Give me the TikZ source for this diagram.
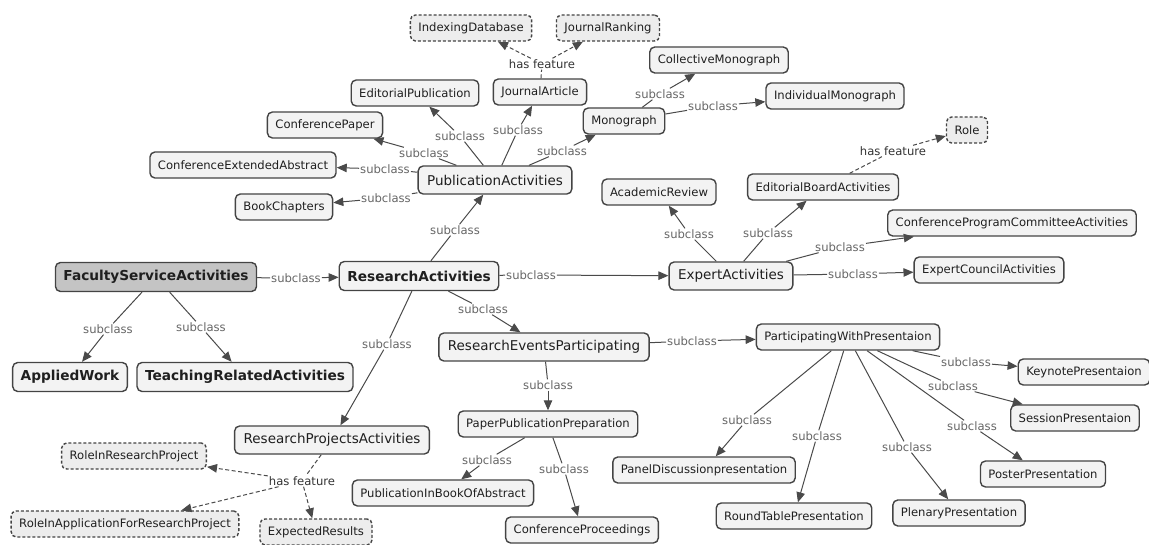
\documentclass[tikz,border=0pt]{standalone}
\usepackage{fontspec}
\setmainfont{DejaVu Sans}
\usetikzlibrary{arrows.meta}
\definecolor{nodeborder}{HTML}{444444}
\definecolor{nodefill}{HTML}{F3F3F3}
\definecolor{edgecol}{HTML}{4A4A4A}
\definecolor{labcol}{HTML}{666666}
\definecolor{facfill}{HTML}{C4C4C4}
\begin{document}
\begin{tikzpicture}[x=1pt,y=-1pt,
 cbox/.style={draw=nodeborder, line width=1.4pt, fill=nodefill, rounded corners=5pt, inner xsep=8pt, inner ysep=2pt, minimum height=26pt, font=\fontsize{11.6}{13}\selectfont, text=black!88},
 bigc/.style={cbox, inner xsep=9pt, minimum height=28pt, font=\fontsize{13.5}{15}\selectfont},
 boldc/.style={cbox, inner xsep=8pt, minimum height=29pt, font=\fontsize{13.7}{15}\selectfont\bfseries},
 feat/.style={cbox, dash pattern=on 3pt off 2pt, fill=black!7},
 lab/.style={fill=white, inner sep=1pt, text=labcol, font=\fontsize{11.6}{13}\selectfont},
 hlab/.style={lab, text=black!80},
 conn/.style={draw=edgecol, line width=1pt},
 arr/.style={conn, -{Triangle[length=10pt,width=8.5pt]}},
 darr/.style={arr, dash pattern=on 4pt off 2.5pt},
 dline/.style={conn, dash pattern=on 4pt off 2.5pt},
]
\useasboundingbox (0,0) rectangle (1149,545);
% nodes
\node[feat] (ID) at (471,28) {IndexingDatabase};
\node[feat] (JR) at (608,28) {JournalRanking};
\node[cbox] (JA) at (540,92) {JournalArticle};
\node[cbox] (EP) at (415,93) {EditorialPublication};
\node[cbox] (CPp) at (325,125) {ConferencePaper};
\node[cbox] (CEA) at (243,165) {ConferenceExtendedAbstract};
\node[cbox] (BC) at (284,207) {BookChapters};
\node[bigc] (PA) at (495,180) {PublicationActivities};
\node[cbox] (MO) at (624,121) {Monograph};
\node[cbox] (CM) at (719,60) {CollectiveMonograph};
\node[cbox] (IM) at (835,96) {IndividualMonograph};
\node[feat] (RO) at (967,130) {Role};
\node[cbox] (EBA) at (823,187) {EditorialBoardActivities};
\node[cbox] (AR) at (659,192) {AcademicReview};
\node[cbox] (CPCA) at (1012,223) {ConferenceProgramCommitteeActivities};
\node[bigc] (EA) at (731,276) {ExpertActivities};
\node[cbox] (ECA) at (989,270) {ExpertCouncilActivities};
\node[boldc, fill=facfill] (FSA) at (156,277) {FacultyServiceActivities};
\node[boldc] (RA) at (419,276) {ResearchActivities};
\node[boldc] (AW) at (70,377) {AppliedWork};
\node[boldc] (TRA) at (245,377) {TeachingRelatedActivities};
\node[bigc] (REP) at (544,347) {ResearchEventsParticipating};
\node[cbox] (PWP) at (848,337) {ParticipatingWithPresentaion};
\node[cbox] (PPP) at (548,424) {PaperPublicationPreparation};
\node[cbox] (PIB) at (443,493) {PublicationInBookOfAbstract};
\node[cbox] (CPr) at (582,530) {ConferenceProceedings};
\node[bigc] (RPA) at (332,440) {ResearchProjectsActivities};
\node[feat] (RIRP) at (134,456) {RoleInResearchProject};
\node[feat] (RIAF) at (125,524) {RoleInApplicationForResearchProject};
\node[feat] (ER) at (316,532) {ExpectedResults};
\node[cbox] (PDP) at (704,470) {PanelDiscussionpresentation};
\node[cbox] (RTP) at (794,516) {RoundTablePresentation};
\node[cbox] (PLP) at (959,513) {PlenaryPresentation};
\node[cbox] (PSP) at (1043,474) {PosterPresentation};
\node[cbox] (SP) at (1075,418) {SessionPresentaion};
\node[cbox] (KP) at (1084,372) {KeynotePresentaion};
% labels
\node[lab] (l1) at (460,136) {subclass};
\node[lab] (l2) at (424,153) {subclass};
\node[lab] (l3) at (385,169) {subclass};
\node[lab] (l4) at (386,198) {subclass};
\node[lab] (l5) at (518,130) {subclass};
\node[lab] (l6) at (562,151) {subclass};
\node[lab] (l7) at (660,94) {subclass};
\node[lab] (l8) at (713,106) {subclass};
\node[hlab] (h1) at (542,64) {has feature};
\node[lab] (l10) at (455,230) {subclass};
\node[lab] (l11) at (296,278) {subclass};
\node[lab] (l12) at (108,329) {subclass};
\node[lab] (l13) at (201,327) {subclass};
\node[lab] (l14) at (531,275) {subclass};
\node[lab] (l15) at (483,309) {subclass};
\node[lab] (l16) at (387,344) {subclass};
\node[lab] (l17) at (689,234) {subclass};
\node[lab] (l18) at (768,233) {subclass};
\node[lab] (l19) at (840,247) {subclass};
\node[lab] (l20) at (853,274) {subclass};
\node[hlab] (h2) at (893,151) {has feature};
\node[lab] (l22) at (692,341) {subclass};
\node[lab] (l23) at (548,385) {subclass};
\node[lab] (l24) at (487,460) {subclass};
\node[lab] (l25) at (564,469) {subclass};
\node[hlab] (h3) at (302,481) {has feature};
\node[lab] (l27) at (747,420) {subclass};
\node[lab] (l28) at (817,436) {subclass};
\node[lab] (l29) at (907,447) {subclass};
\node[lab] (l30) at (972,426) {subclass};
\node[lab] (l31) at (953,386) {subclass};
\node[lab] (l32) at (966,362) {subclass};
% connectors
\draw[conn] (PA) -- (l1); \draw[arr] (l1) -- (EP);
\draw[conn] (PA) -- (l2); \draw[arr] (l2) -- (CPp);
\draw[conn] (PA) -- (l3); \draw[arr] (l3) -- (CEA);
\draw[conn] (PA) -- (l4); \draw[arr] (l4) -- (BC);
\draw[conn] (PA) -- (l5); \draw[arr] (l5) -- (JA);
\draw[conn] (PA) -- (l6); \draw[arr] (l6) -- (MO);
\draw[conn] (MO) -- (l7); \draw[arr] (l7) -- (CM);
\draw[conn] (MO) -- (l8); \draw[arr] (l8) -- (IM);
\draw[dline] (JA) -- (h1); \draw[darr] (h1) -- (ID); \draw[darr] (h1) -- (JR);
\draw[conn] (RA) -- (l10); \draw[arr] (l10) -- (PA);
\draw[conn] (FSA) -- (l11); \draw[arr] (l11) -- (RA);
\draw[conn] (FSA) -- (l12); \draw[arr] (l12) -- (AW);
\draw[conn] (FSA) -- (l13); \draw[arr] (l13) -- (TRA);
\draw[conn] (RA) -- (l14); \draw[arr] (l14) -- (EA);
\draw[conn] (RA) -- (l15); \draw[arr] (l15) -- (REP);
\draw[conn] (RA) -- (l16); \draw[arr] (l16) -- (RPA);
\draw[conn] (EA) -- (l17); \draw[arr] (l17) -- (AR);
\draw[conn] (EA) -- (l18); \draw[arr] (l18) -- (EBA);
\draw[conn] (EA) -- (l19); \draw[arr] (l19) -- (CPCA);
\draw[conn] (EA) -- (l20); \draw[arr] (l20) -- (ECA);
\draw[dline] (EBA) -- (h2); \draw[darr] (h2) -- (RO);
\draw[conn] (REP) -- (l22); \draw[arr] (l22) -- (PWP);
\draw[conn] (REP) -- (l23); \draw[arr] (l23) -- (PPP);
\draw[conn] (PPP) -- (l24); \draw[arr] (l24) -- (PIB);
\draw[conn] (PPP) -- (l25); \draw[arr] (l25) -- (CPr);
\draw[dline] (RPA) -- (h3); \draw[darr] (h3) -- (RIRP); \draw[darr] (h3) -- (RIAF); \draw[darr] (h3) -- (ER);
\draw[conn] (PWP) -- (l27); \draw[arr] (l27) -- (PDP);
\draw[conn] (PWP) -- (l28); \draw[arr] (l28) -- (RTP);
\draw[conn] (PWP) -- (l29); \draw[arr] (l29) -- (PLP);
\draw[conn] (PWP) -- (l30); \draw[arr] (l30) -- (PSP);
\draw[conn] (PWP) -- (l31); \draw[arr] (l31) -- (SP);
\draw[conn] (PWP) -- (l32); \draw[arr] (l32) -- (KP);
\end{tikzpicture}
\end{document}
